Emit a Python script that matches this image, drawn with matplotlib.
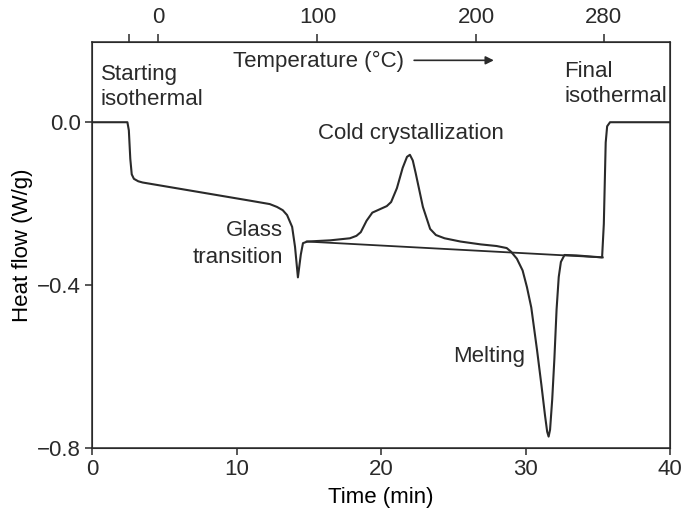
import matplotlib
matplotlib.use("Agg")
import matplotlib.pyplot as plt

# DSC trace
time_min = [0, 2.45, 2.55, 2.65, 2.75, 2.9, 3.2, 3.5, 6, 9, 11, 12.3, 12.8, 13.2,
            13.5, 13.85, 14.05, 14.25, 14.45, 14.6, 14.9, 16.5, 17.85, 18.3, 18.6,
            19.0, 19.4, 19.9, 20.4, 20.7, 21.1, 21.5, 21.8, 22.0, 22.2, 22.4, 22.9,
            23.4, 23.8, 24.4, 25.5, 26.9, 28.0, 28.7, 29.0, 29.4, 29.8, 30.1, 30.4,
            30.8, 31.1, 31.35, 31.5, 31.6, 31.7, 31.85, 32.0, 32.15, 32.3, 32.45,
            32.7, 33.5, 35.3, 35.42, 35.55, 35.65, 35.85, 40]
heat_flow = [0, 0, -0.02, -0.09, -0.128, -0.139, -0.145, -0.148, -0.163, -0.181,
             -0.193, -0.201, -0.208, -0.216, -0.228, -0.257, -0.306, -0.381, -0.325,
             -0.297, -0.293, -0.290, -0.285, -0.279, -0.270, -0.242, -0.222, -0.214,
             -0.206, -0.196, -0.162, -0.112, -0.085, -0.080, -0.094, -0.125, -0.208,
             -0.262, -0.277, -0.285, -0.293, -0.300, -0.304, -0.309, -0.318, -0.335,
             -0.364, -0.405, -0.455, -0.56, -0.645, -0.72, -0.76, -0.772, -0.755,
             -0.68, -0.58, -0.46, -0.38, -0.343, -0.326, -0.327, -0.332, -0.25,
             -0.05, -0.01, 0.0, 0.0]

# straight baseline drawn under the transitions
base_t = [14.85, 35.35]
base_y = [-0.293, -0.332]

# temperature scale along the top
temp_pos = [2.55, 4.6, 15.6, 26.6, 35.4]
temp_labels = ['', '0', '100', '200', '280']

ink = '#2a2a2a'
plt.rcParams['font.family'] = ['Liberation Sans', 'DejaVu Sans']
plt.rcParams['font.size'] = 16
plt.rcParams['text.color'] = ink
plt.rcParams['axes.edgecolor'] = ink
plt.rcParams['xtick.color'] = ink
plt.rcParams['ytick.color'] = ink

fig = plt.figure(figsize=(6.83, 5.18), dpi=100)
ax = fig.add_axes([92 / 683, 70 / 518, 578 / 683, 406 / 518])

ax.plot(time_min, heat_flow, color=ink, lw=1.5)
ax.plot(base_t, base_y, color=ink, lw=1.3)

ax.set_xlim(0, 40)
ax.set_ylim(-0.8, 0.197)
ax.set_xticks([0, 10, 20, 30, 40])
ax.set_yticks([0.0, -0.4, -0.8])
ax.set_yticklabels(['0.0', '\u22120.4', '\u22120.8'])
ax.tick_params(direction='out', length=5, width=1.1, pad=3)
for s in ax.spines.values():
    s.set_linewidth(1.1)

ax.set_xlabel('Time (min)')
ax.xaxis.label.set_va('center')
ax.xaxis.set_label_coords(0.5, -0.123)
ax.set_ylabel('Heat flow (W/g)')
ax.yaxis.label.set_va('center')
ax.yaxis.set_label_coords(-0.12, 0.5)

top = ax.twiny()
top.set_xlim(ax.get_xlim())
top.set_xticks(temp_pos)
top.set_xticklabels(temp_labels)
top.tick_params(direction='out', length=6, width=1.1, pad=4)

# annotations
ax.text(0.62, 0.103, 'Starting', ha='left', va='baseline')
ax.text(0.62, 0.042, 'isothermal', ha='left', va='baseline')
ax.text(9.76, 0.135, 'Temperature (\u00b0C)', ha='left', va='baseline')
ax.annotate('', xy=(28.0, 0.152), xytext=(22.1, 0.152),
            arrowprops=dict(arrowstyle='-|>', color=ink, lw=1.2, mutation_scale=12))
ax.text(32.7, 0.11, 'Final', ha='left', va='baseline')
ax.text(32.7, 0.049, 'isothermal', ha='left', va='baseline')
ax.text(15.64, -0.041, 'Cold crystallization', ha='left', va='baseline')
ax.text(13.2, -0.28, 'Glass', ha='right', va='baseline')
ax.text(13.2, -0.346, 'transition', ha='right', va='baseline')
ax.text(29.97, -0.59, 'Melting', ha='right', va='baseline')

fig.savefig('out.png', dpi=100)
